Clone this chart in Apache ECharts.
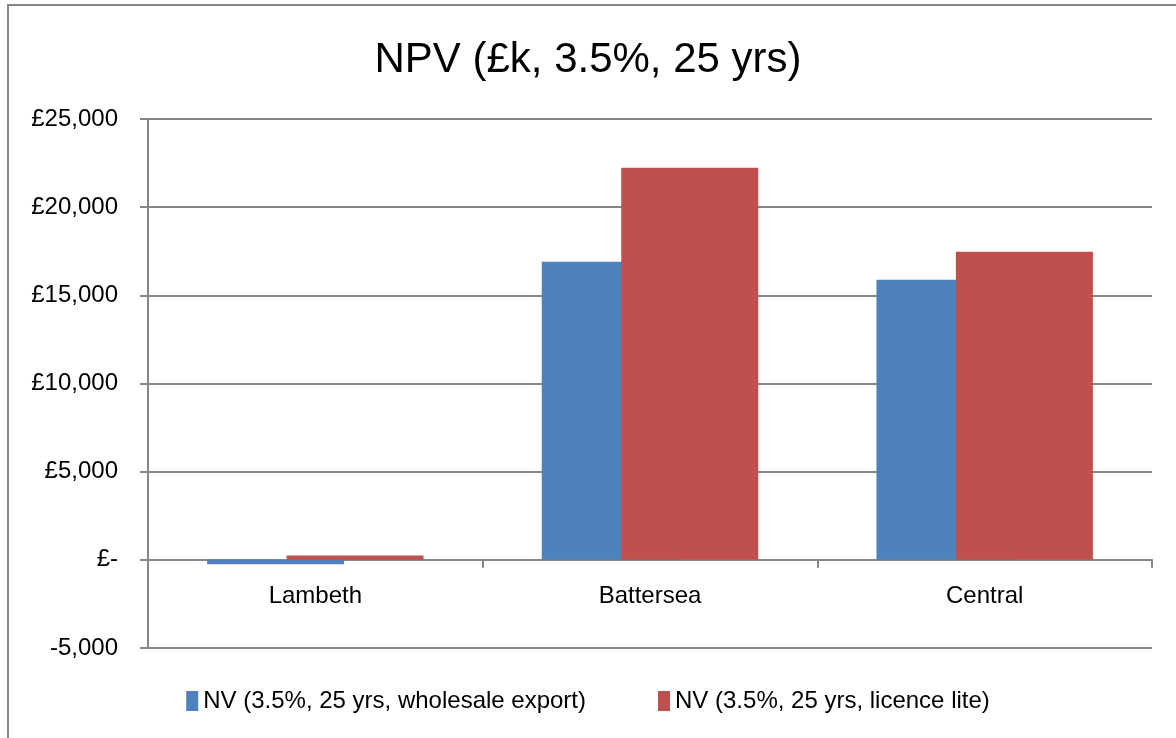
<!DOCTYPE html>
<html>
<head>
<meta charset="utf-8">
<script src="https://cdn.jsdelivr.net/npm/echarts@6/dist/echarts.min.js"></script>
<style>
  html, body { margin: 0; padding: 0; background: #fff; }
  #chart { width: 1176px; height: 738px; }
</style>
</head>
<body>
<div id="chart"></div>
<script>
// NPV by site, in £k
var categories = ['Lambeth', 'Battersea', 'Central'];
var wholesaleExport = [-250, 16900, 15880];
var licenceLite = [250, 22230, 17470];
var seriesNames = ['NV (3.5%, 25 yrs, wholesale export)', 'NV (3.5%, 25 yrs, licence lite)'];

var font = '"Liberation Sans", Arial, sans-serif';
var colors = ['#4F81BD', '#C0504D'];

function fmt(v) {
    if (v === 0) return '£-';
    var s = Math.abs(v).toString().replace(/\B(?=(\d{3})+(?!\d))/g, ',');
    return v < 0 ? '-' + s : '£' + s;
}

var chart = echarts.init(document.getElementById('chart'));
var option = {
    animation: false,
    color: colors,
    title: {
        text: 'NPV (£k, 3.5%, 25 yrs)',
        left: 'center',
        top: 34,
        textStyle: { fontFamily: font, fontSize: 42, fontWeight: 'normal', color: '#000' }
    },
    graphic: [{
        type: 'rect',
        shape: { x: 8, y: 5, width: 1300, height: 900 },
        style: { fill: 'none', stroke: '#868686', lineWidth: 2 },
        silent: true
    }],
    legend: {
        bottom: 20,
        left: 'center',
        itemWidth: 12,
        itemHeight: 20,
        itemGap: 72,
        icon: 'rect',
        data: seriesNames,
        textStyle: { fontFamily: font, fontSize: 24, color: '#000' }
    },
    grid: { left: 148, right: 24, top: 119, bottom: 90 },
    xAxis: {
        type: 'category',
        data: categories,
        axisLine: { onZero: true, lineStyle: { color: '#868686', width: 2 } },
        axisTick: { show: true, length: 8, lineStyle: { color: '#868686', width: 2 } },
        axisLabel: { fontFamily: font, fontSize: 24, color: '#000', margin: -64 }
    },
    yAxis: {
        type: 'value',
        min: -5000,
        max: 25000,
        interval: 5000,
        axisLine: { show: true, lineStyle: { color: '#868686', width: 2 } },
        axisTick: { show: true, length: 8, lineStyle: { color: '#868686', width: 2 } },
        splitLine: { lineStyle: { color: '#868686', width: 2 } },
        axisLabel: { fontFamily: font, fontSize: 24, color: '#000', margin: 30, formatter: fmt }
    },
    series: [
        {
            name: seriesNames[0],
            type: 'bar',
            data: wholesaleExport,
            barWidth: 137,
            barGap: '-42%'
        },
        {
            name: seriesNames[1],
            type: 'bar',
            data: licenceLite,
            barWidth: 137,
            barGap: '-42%'
        }
    ]
};
chart.setOption(option);
</script>
</body>
</html>
